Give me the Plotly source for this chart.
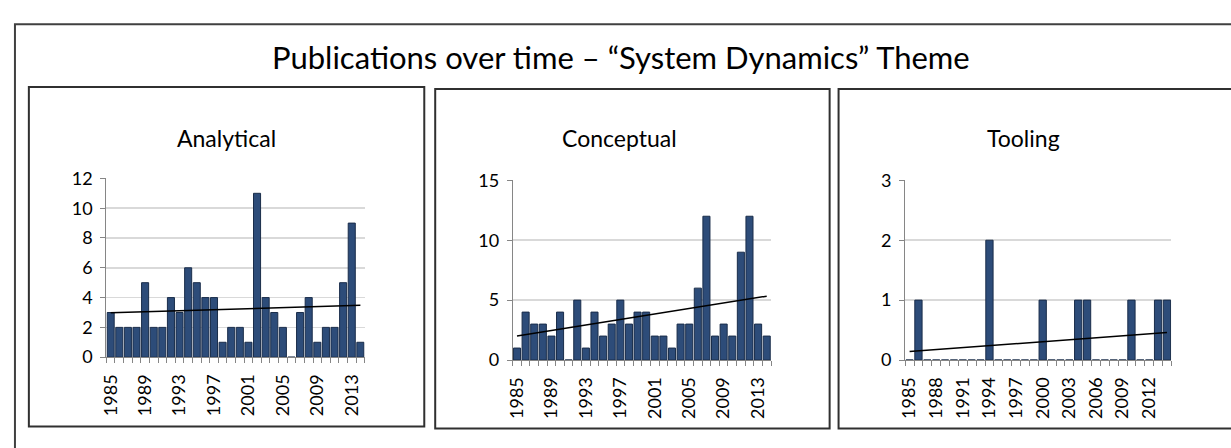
import numpy as np
import plotly.graph_objects as go

W, H = 1231, 448

years = list(range(1985, 2015))
analytical = [3, 2, 2, 2, 5, 2, 2, 4, 3, 6, 5, 4, 4, 1, 2, 2, 1, 11, 4, 3, 2, 0, 3, 4, 1, 2, 2, 5, 9, 1]
conceptual = [1, 4, 3, 3, 2, 4, 0, 5, 1, 4, 2, 3, 5, 3, 4, 4, 2, 2, 1, 3, 3, 6, 12, 2, 3, 2, 9, 12, 3, 2]
tooling = [0, 1, 0, 0, 0, 0, 0, 0, 0, 2, 0, 0, 0, 0, 0, 1, 0, 0, 0, 1, 1, 0, 0, 0, 0, 1, 0, 0, 1, 1]

panel_titles = ["Analytical", "Conceptual", "Tooling"]
main_title = "Publications over time – “System Dynamics” Theme"
ticks_every4 = [1985, 1989, 1993, 1997, 2001, 2005, 2009, 2013]
ticks_every3 = [1985, 1988, 1991, 1994, 1997, 2000, 2003, 2006, 2009, 2012]
y_ranges = [(0, 12, 2), (0, 15, 5), (0, 3, 1)]

FONT = "Lato"

def px_x(p):
    return p / W

def px_y(p):
    return 1 - p / H

# plot areas in pixels: (left, right, top, bottom)
plot_boxes = [(99, 359, 175, 363), (508, 768, 177, 366), (903, 1171, 177, 366)]
panel_boxes = [(21, 79, 419, 436), (430, 81, 827, 438), (836, 81, 1240, 438)]

fig = go.Figure()
series = [analytical, conceptual, tooling]
tick_sets = [ticks_every4, ticks_every4, ticks_every3]

for i, vals in enumerate(series):
    ax = "" if i == 0 else str(i + 1)
    fig.add_trace(go.Bar(
        x=years, y=vals, xaxis="x" + ax, yaxis="y" + ax,
        marker=dict(color="#2d4c79", line=dict(color="#1a2d4a", width=1)),
        width=0.82, showlegend=False,
    ))
    slope, intercept = np.polyfit(years, vals, 1)
    tx = [years[0], years[-1]]
    ty = [slope * t + intercept for t in tx]
    fig.add_trace(go.Scatter(
        x=tx, y=ty, mode="lines", xaxis="x" + ax, yaxis="y" + ax,
        line=dict(color="black", width=1.5), showlegend=False,
    ))
    l, r, t, b = plot_boxes[i]
    y0, y1, dy = y_ranges[i]
    fig.layout["xaxis" + ax] = dict(
        domain=[px_x(l), px_x(r)], anchor="y" + ax,
        range=[years[0] - 0.5, years[-1] + 0.5],
        tickmode="array", tickvals=tick_sets[i], ticktext=[str(v) for v in tick_sets[i]],
        tickangle=-90, ticks="outside", ticklen=9, tickcolor="rgba(0,0,0,0)",
        showgrid=False, zeroline=False,
        showline=True, linecolor="#868686", linewidth=1,
        tickfont=dict(family=FONT, size=18, color="black"),
        minor=dict(tickmode="linear", tick0=1984.5, dtick=1, ticks="outside",
                   ticklen=5, tickcolor="#868686", showgrid=False),
    )
    fig.layout["yaxis" + ax] = dict(
        domain=[px_y(b), px_y(t)], anchor="x" + ax,
        range=[y0, y1], dtick=dy, tick0=0,
        showgrid=True, gridcolor="#d9d9d9", gridwidth=1.5,
        zeroline=False, showline=True, linecolor="#868686", linewidth=1,
        ticks="outside", ticklen=5, tickcolor="#868686",
        ticklabelstandoff=4,
        tickfont=dict(family=FONT, size=18, color="black"),
    )

shapes = [dict(type="rect", xref="paper", yref="paper",
               x0=px_x(7), y0=px_y(460), x1=px_x(1240), y1=px_y(13),
               line=dict(color="#404040", width=2), layer="below")]
for (l, t, r, b) in panel_boxes:
    shapes.append(dict(type="rect", xref="paper", yref="paper",
                       x0=px_x(l), y0=px_y(b), x1=px_x(r), y1=px_y(t),
                       line=dict(color="#303030", width=2), layer="below"))

annotations = [dict(text=main_title, x=px_x(617), y=px_y(47), xref="paper", yref="paper",
                    showarrow=False, xanchor="center", yanchor="middle",
                    font=dict(family=FONT, size=31, color="black"))]
title_x = [220, 615, 1022]
for tx_, name in zip(title_x, panel_titles):
    annotations.append(dict(text=name, x=px_x(tx_), y=px_y(133), xref="paper", yref="paper",
                            showarrow=False, xanchor="center", yanchor="middle",
                            font=dict(family=FONT, size=23, color="black")))

fig.update_layout(
    width=W, height=H, margin=dict(l=0, r=0, t=0, b=0),
    paper_bgcolor="white", plot_bgcolor="white",
    shapes=shapes, annotations=annotations, bargap=0.15,
)

fig.write_html("out.html",
               config={"displayModeBar": False, "staticPlot": True},
               post_script="document.body.style.margin='0';document.body.style.overflow='hidden';")
